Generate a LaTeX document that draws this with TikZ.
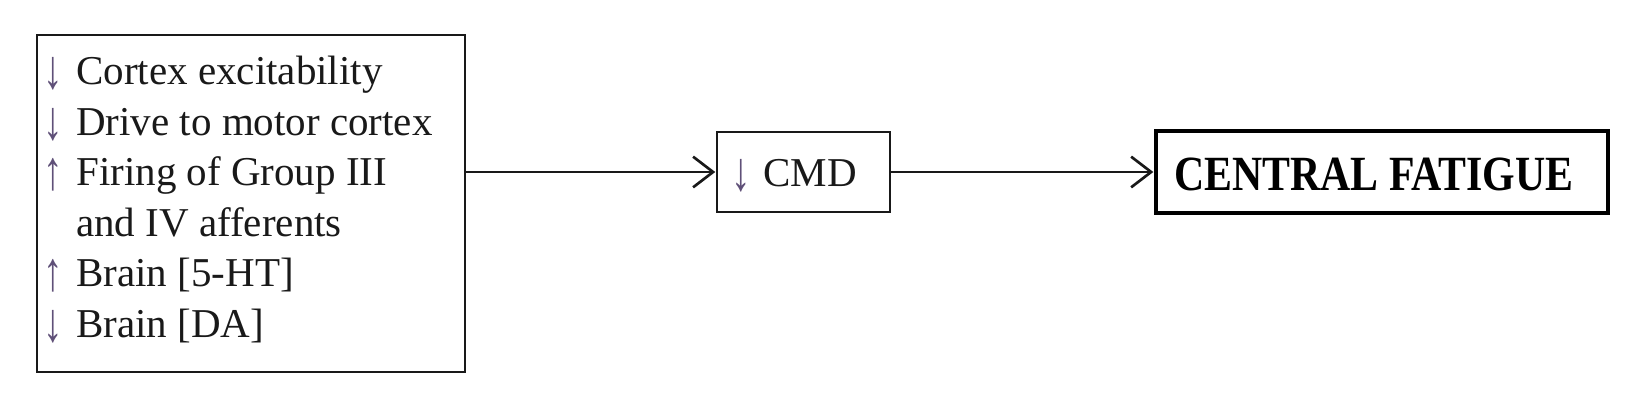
\documentclass[tikz,border=0pt]{standalone}
\usepackage{fontspec}
\usepackage{graphicx}
\setmainfont{Liberation Serif}
\usetikzlibrary{arrows.meta}
\definecolor{arrowcol}{RGB}{95,80,120}
\definecolor{textcol}{RGB}{25,25,25}
\newcommand{\tallarr}[1]{\smash{\raisebox{-3pt}{\scalebox{0.95}[1.35]{\textcolor{arrowcol}{#1}}}}}
\newcommand{\dn}{\makebox[34.5pt][c]{\tallarr{↓}}}
\newcommand{\up}{\makebox[34.5pt][c]{\tallarr{↑}}}
\newcommand{\noarr}{\makebox[34.5pt][c]{}}
\tikzset{
  leftbox/.style={draw=textcol, line width=1.6pt, inner sep=0pt, minimum width=321pt, minimum height=252.75pt},
  midbox/.style={draw=textcol, line width=1.6pt, inner sep=0pt, minimum width=129.75pt, minimum height=60pt},
  endbox/.style={draw=black, line width=3pt, inner sep=0pt, minimum width=339pt, minimum height=61.5pt},
  txt/.style={anchor=base west, inner sep=0pt, text=textcol, font=\fontsize{30.75}{37.8}\selectfont},
  conn/.style={draw=textcol, line width=2pt, -{Straight Barb[length=15pt, width=23pt, line width=2pt]}, shorten >=0.5pt}
}
\begin{document}
\begin{tikzpicture}[x=0.75pt, y=-0.75pt]
\useasboundingbox (0,0) rectangle (1642,420);
% boxes
\node[leftbox] (L) at (251,203.5) {};
\node[midbox] (M) at (803.5,172) {};
\node[endbox] (R) at (1382,172) {};
% left texts
\node[txt] (l1) at (30,85) {\dn Cortex excitability};
\node[txt] (l2) at (30,135.4) {\dn Drive to motor cortex};
\node[txt] (l3) at (30,185.8) {\up Firing of Group III};
\node[txt] (l4) at (30,236.2) {\noarr and IV afferents};
\node[txt] (l5) at (30,286.6) {\up Brain [5-HT]};
\node[txt] (l6) at (30,337) {\dn Brain [DA]};
% middle text
\node[txt] (cmd) at (719,187) {\makebox[33pt][c]{\tallarr{↓}}CMD};
% right text
\node[txt, text=black] (cf) at (1174,191) {\scalebox{1.02}[1.2]{\bfseries CENTRAL FATIGUE}};
% connectors
\draw[conn] (L.east |- M.west) -- (M.west);
\draw[conn] (M.east) -- (R.west);
\end{tikzpicture}
\end{document}
